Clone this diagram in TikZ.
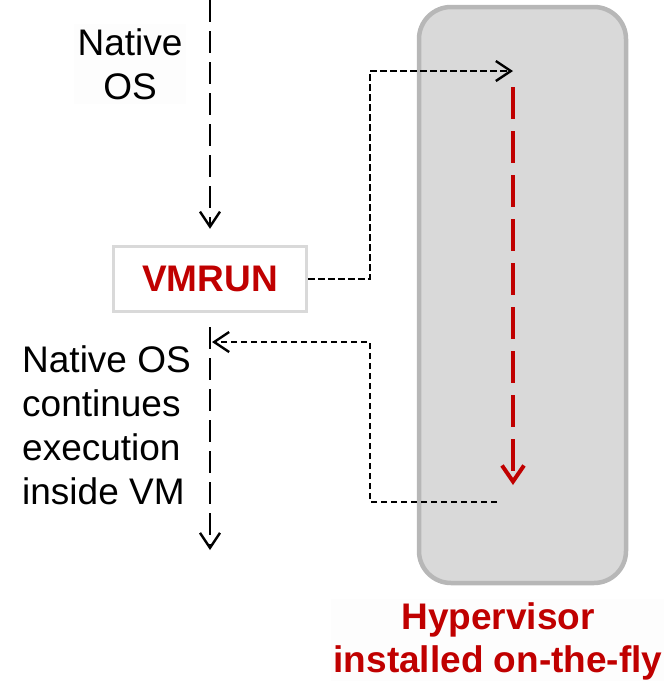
\documentclass[tikz,border=0pt]{standalone}
\usepackage{fontspec}
\setmainfont{Liberation Sans}
\usetikzlibrary{arrows.meta}
\definecolor{vmred}{HTML}{C00000}
\definecolor{boxgray}{HTML}{D9D9D9}
\definecolor{edgegray}{HTML}{B7B7B7}
\definecolor{faint}{HTML}{FDFDFD}
\begin{document}
\begin{tikzpicture}[x=1pt,y=-1pt,
  bigtext/.style={font=\fontsize{37}{44}\selectfont},
  barb/.style={-{Straight Barb[length=15pt,width=20pt,line width=2.4pt]}},
  flow/.style={line width=2.4pt,dash pattern=on 22pt off 9pt,barb},
  jump/.style={line width=2.4pt,dash pattern=on 6.5pt off 3.5pt},
  vmbox/.style={draw=boxgray,line width=3.5pt,fill=white,minimum width=193pt,
    minimum height=65pt,inner sep=0pt,text=vmred,
    font=\fontsize{37}{44}\selectfont\bfseries},
  hvbox/.style={draw=edgegray,line width=4.5pt,fill=boxgray,rounded corners=32pt,
    minimum width=207pt,minimum height=576pt,inner sep=0pt},
  hvpath/.style={draw=vmred,line width=4.5pt,dash pattern=on 32pt off 12pt,
    -{Straight Barb[length=16pt,width=22pt,line width=4pt]}}]
\useasboundingbox (0,0) rectangle (664,681);

% hypervisor region
\node[hvbox] (hv) at (522.5,295) {};

% labels
\node[bigtext,align=center,fill=faint,inner sep=4pt] (native) at (130,64) {Native\\OS};
\node[bigtext,align=left,anchor=west,inner sep=0pt] (cont) at (22,425)
  {Native OS\\continues\\execution\\inside VM};
\node[font=\fontsize{37}{43}\selectfont\bfseries,text=vmred,align=center,
  fill=faint,inner sep=3pt] (hvlabel) at (498,641) {Hypervisor\\installed on-the-fly};

% VMRUN instruction
\node[vmbox] (vmrun) at (210,279) {VMRUN};

% control-flow points
\coordinate (start) at (210,0);
\coordinate (resume) at (210,327);
\coordinate (finish) at (210,550);
\coordinate (enter) at (513,71);
\coordinate (hvtop) at (513,87);
\coordinate (hvbot) at (513,485);
\coordinate (leave) at (497,502);
\coordinate (bendup) at (370,71);
\coordinate (benddown) at (370,342);
\coordinate (back) at (212,342);

% native OS flow
\draw[flow] (start) -- ([yshift=16pt]vmrun.north);
\draw[flow] (resume) -- (finish);

% jump into the hypervisor and back
\draw[jump,barb] (vmrun.east) -| (bendup) -- (enter);
\draw[hvpath] (hvtop) -- (hvbot);
\draw[jump,barb] (leave) -| (benddown) -- (back);
\end{tikzpicture}
\end{document}
